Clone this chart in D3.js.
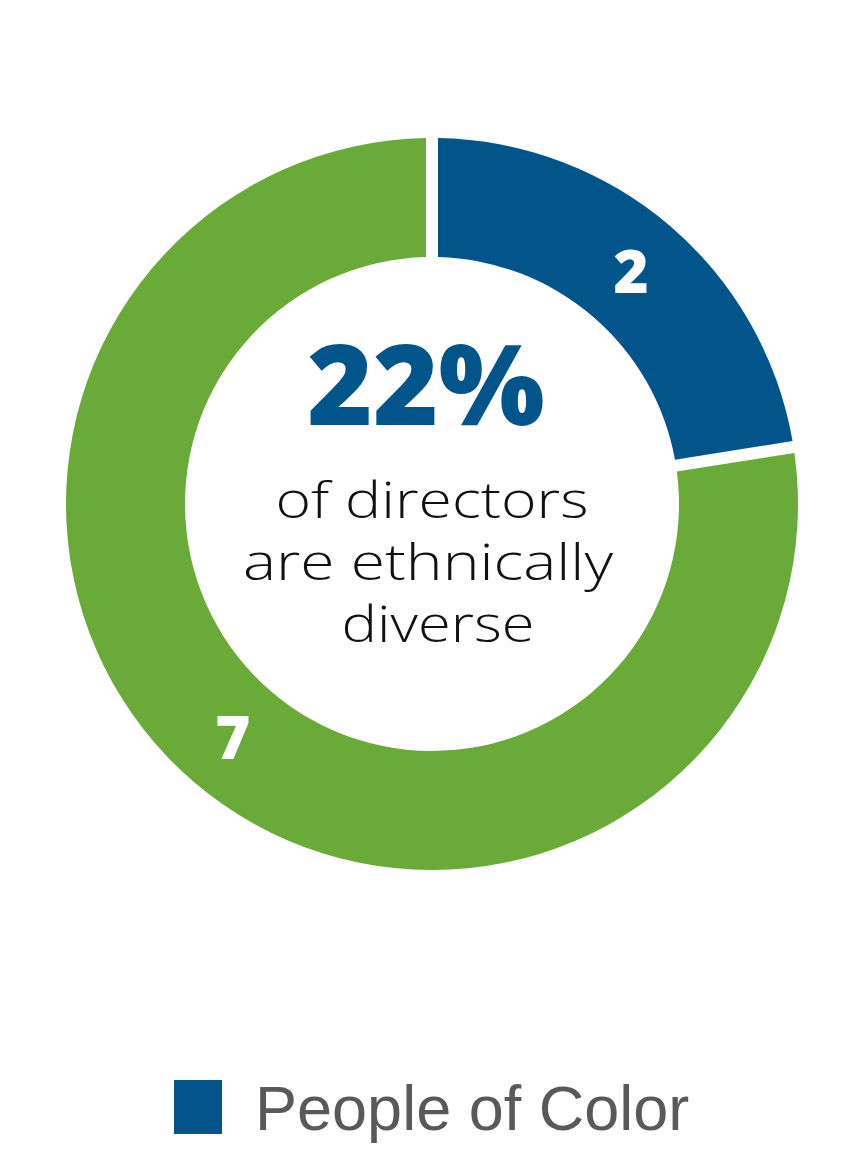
<!DOCTYPE html>
<html>
<head>
<meta charset="utf-8">
<script src="https://cdn.jsdelivr.net/npm/d3@7"></script>
<style>
  html, body { margin: 0; padding: 0; background: #fff; }
</style>
</head>
<body>
<div id="chart"></div>
<script>
// data
const categories = ['People of Color', 'Other'];
const values = [2, 7];
const colors = ['#01558b', '#6aaa38'];
const captionLines = ['of directors', 'are ethnically', 'diverse'];
const legendItems = ['People of Color'];

const width = 864;
const height = 1152;
const cx = 432;
const cy = 504;
const outerR = 366;
const innerR = 247;
const gap = 12;

const svg = d3.select('#chart').append('svg')
  .attr('width', width)
  .attr('height', height);

const color = d3.scaleOrdinal().domain(categories).range(colors);

const pie = d3.pie().sort(null).value(d => d.value).padAngle(gap / outerR);
const arcs = pie(categories.map((c, i) => ({ name: c, value: values[i] })));

const arc = d3.arc().innerRadius(innerR).outerRadius(outerR).padRadius(outerR);
const labelArc = d3.arc().innerRadius(innerR).outerRadius(outerR);

const g = svg.append('g').attr('transform', `translate(${cx},${cy})`);

g.selectAll('path.slice')
  .data(arcs)
  .join('path')
  .attr('class', 'slice')
  .attr('d', arc)
  .attr('fill', d => color(d.data.name));

// slice value labels
g.selectAll('text.val')
  .data(arcs)
  .join('text')
  .attr('class', 'val')
  .attr('transform', d => {
    const [x, y] = labelArc.centroid(d);
    return `translate(${x},${y})`;
  })
  .attr('text-anchor', 'middle')
  .attr('dy', '0.36em')
  .attr('font-family', '"Open Sans", sans-serif')
  .attr('font-weight', 800)
  .attr('font-size', '60px')
  .attr('fill', '#fff')
  .text(d => d.data.value);

// centre text
const total = d3.sum(values);
g.append('text')
  .attr('x', -6)
  .attr('y', -79)
  .attr('text-anchor', 'middle')
  .attr('font-family', '"Open Sans", sans-serif')
  .attr('font-weight', 800)
  .attr('font-size', '112px')
  .attr('fill', colors[0])
  .text(d3.format('.0%')(values[0] / total));

const lineWidths = [313, 370, 193];
const lineX = [0, -4, 6];
g.selectAll('text.cap')
  .data(captionLines)
  .join('text')
  .attr('class', 'cap')
  .attr('x', (d, i) => lineX[i])
  .attr('y', (d, i) => 14 + i * 62)
  .attr('text-anchor', 'middle')
  .attr('font-family', '"Open Sans", sans-serif')
  .attr('font-weight', 300)
  .attr('font-size', '50px')
  .attr('fill', '#111')
  .attr('textLength', (d, i) => lineWidths[i])
  .attr('lengthAdjust', 'spacingAndGlyphs')
  .text(d => d);

// legend
const legend = svg.append('g').attr('transform', 'translate(174,1080)');
legend.selectAll('rect')
  .data(legendItems)
  .join('rect')
  .attr('width', 48)
  .attr('height', 54)
  .attr('fill', d => color(d));
legend.selectAll('text')
  .data(legendItems)
  .join('text')
  .attr('x', 81)
  .attr('y', 50)
  .attr('font-family', '"Liberation Sans", Arial, sans-serif')
  .attr('font-size', '63px')
  .attr('fill', '#595959')
  .text(d => d);
</script>
</body>
</html>
